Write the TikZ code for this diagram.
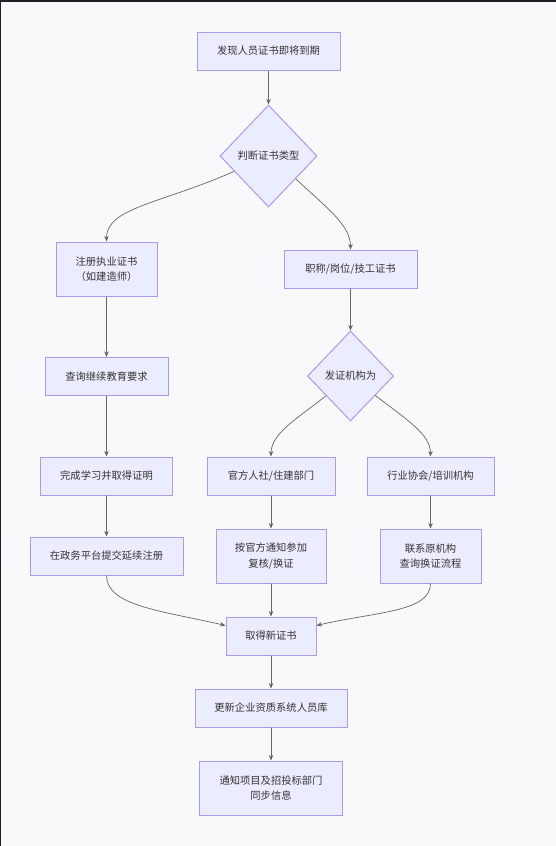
\documentclass[tikz,border=0pt]{standalone}
\usepackage{fontspec}
\setmainfont{Noto Sans CJK SC}
\usepackage{tikz}
\usetikzlibrary{shapes.geometric, arrows.meta}
\definecolor{boxfill}{HTML}{ECECFF}
\definecolor{boxline}{HTML}{AE98E8}
\definecolor{edge}{HTML}{333333}
\definecolor{wire}{HTML}{666666}
\definecolor{paper}{HTML}{F8F9FA}
\definecolor{frame}{HTML}{202124}

\begin{document}
\begin{tikzpicture}[x=1pt, y=1pt,
    every node/.style={font=\fontsize{10.3pt}{15.6pt}\selectfont, text=edge},
    box/.style={rectangle, draw=boxline, fill=boxfill, line width=1pt, align=center, minimum height=38pt, inner sep=0pt},
    tallbox/.style={box, minimum height=54pt},
    choice/.style={diamond, draw=boxline, fill=boxfill, line width=1pt, aspect=1, inner sep=0pt},
    link/.style={draw=wire, line width=0.7pt, -{Stealth[length=5.5pt, width=4.5pt]}}]
    % Background and frame
    \fill[paper] (0,0) rectangle (556,-846);
    \fill[frame] (0,0) rectangle (556,-2);
    \fill[frame] (0,0) rectangle (1,-846);

    % Define points
    \coordinate (S) at (268.5,-51);
    \coordinate (D1) at (268.5,-156);
    \coordinate (R) at (106.5,-269);
    \coordinate (T) at (350.5,-269);
    \coordinate (Q) at (106.5,-376.5);
    \coordinate (D2) at (350.5,-376);
    \coordinate (F) at (106.5,-476);
    \coordinate (O) at (271,-476);
    \coordinate (A) at (430.5,-476);
    \coordinate (P) at (106.5,-556);
    \coordinate (N) at (271,-556);
    \coordinate (C) at (430.5,-556);
    \coordinate (G) at (271,-636);
    \coordinate (U) at (271,-708);
    \coordinate (I) at (271,-788);

    % Nodes
    \node[box, minimum width=143pt] (start) at (S) {发现人员证书即将到期};
    \node[choice, minimum width=97pt, minimum height=102pt] (type) at (D1) {判断证书类型};
    \node[tallbox, minimum width=101pt] (reg) at (R) {注册执业证书\\（如建造师）};
    \node[box, minimum width=133pt] (title) at (T) {职称/岗位/技工证书};
    \node[box, minimum width=123pt] (query) at (Q) {查询继续教育要求};
    \node[choice, minimum width=86pt, minimum height=90pt] (issuer) at (D2) {发证机构为};
    \node[box, minimum width=132pt] (finish) at (F) {完成学习并取得证明};
    \node[box, minimum width=128pt] (official) at (O) {官方人社/住建部门};
    \node[box, minimum width=127pt] (assoc) at (A) {行业协会/培训机构};
    \node[box, minimum width=153pt] (submit) at (P) {在政务平台提交延续注册};
    \node[tallbox, minimum width=110pt] (notice) at (N) {按官方通知参加\\复核/换证};
    \node[tallbox, minimum width=101pt] (contact) at (C) {联系原机构\\查询换证流程};
    \node[box, minimum width=90pt] (newcert) at (G) {取得新证书};
    \node[box, minimum width=152pt] (update) at (U) {更新企业资质系统人员库};
    \node[tallbox, minimum width=143pt] (inform) at (I) {通知项目及招投标部门\\同步信息};

    % Straight links
    \draw[link] (start.south) -- (type.north);
    \draw[link] (reg.south) -- (query.north);
    \draw[link] (query.south) -- (finish.north);
    \draw[link] (finish.south) -- (submit.north);
    \draw[link] (title.south) -- (issuer.north);
    \draw[link] (official.south) -- (notice.north);
    \draw[link] (assoc.south) -- (contact.north);
    \draw[link] (notice.south) -- (newcert.north);
    \draw[link] (newcert.south) -- (update.north);
    \draw[link] (update.south) -- (inform.north);

    % Curved links
    \draw[link] (type.204) to[out=204, in=90, out looseness=1.4, in looseness=0.6] (reg.north);
    \draw[link] (type.320) to[out=317, in=90, out looseness=1.2, in looseness=0.7] (title.north);
    \draw[link] (issuer.219) to[out=218, in=90, out looseness=1.2, in looseness=0.7] (official.north);
    \draw[link] (issuer.322) to[out=322, in=90, out looseness=1.2, in looseness=0.7] (assoc.north);
    \draw[link] (submit.south) to[out=270, in=167, out looseness=0.6, in looseness=1.3] (newcert.167);
    \draw[link] (contact.south) to[out=270, in=13, out looseness=0.6, in looseness=1.3] (newcert.13);
\end{tikzpicture}
\end{document}
